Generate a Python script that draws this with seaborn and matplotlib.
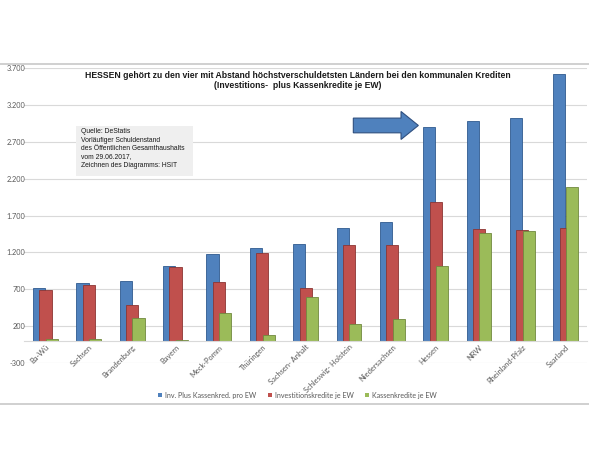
import numpy as np
import pandas as pd
import seaborn as sns
import matplotlib.pyplot as plt
from matplotlib.patches import FancyArrow, Rectangle
from matplotlib.lines import Line2D
from matplotlib.ticker import FuncFormatter

laender = ['Ba-Wü', 'Sachsen', 'Brandenburg', 'Bayern', 'Meck-Pomm', 'Thüringen',
           'Sachsen- Anhalt', 'Schleswig- Holstein', 'Niedersachsen', 'Hessen',
           'NRW', 'Rheinland-Pfalz', 'Saarland']
gesamt = [712, 788, 811, 1015, 1178, 1260, 1314, 1527, 1609, 2904, 2990, 3026, 3624]
investition = [689, 757, 485, 1002, 798, 1187, 712, 1296, 1296, 1885, 1522, 1508, 1527]
kasse = [20, 25, 313, 5, 372, 73, 594, 227, 299, 1015, 1459, 1495, 2093]
serien = ['Inv. Plus Kassenkred. pro EW', 'Investitionskredite je EW', 'Kassenkredite je EW']
yticks = [-300, 200, 700, 1200, 1700, 2200, 2700, 3200, 3700]

farben = ['#4f81bd', '#c0504d', '#9bbb59']
kanten = ['#2f5a8f', '#8c3533', '#71893f']

df = pd.DataFrame({
    'Land': laender * 3,
    'Wert': gesamt + investition + kasse,
    'Serie': [serien[0]] * 13 + [serien[1]] * 13 + [serien[2]] * 13,
})

sns.set_style('white')
fig = plt.figure(figsize=(5.89, 4.75), dpi=100)
ax = fig.add_axes([0.0404, 0.236, 0.957, 0.62])

sns.barplot(data=df, x='Land', y='Wert', hue='Serie', hue_order=serien,
            palette=farben, saturation=1, dodge=True, width=0.44, ax=ax,
            legend=False, linewidth=0.6)

# overlapping bars like the Excel original
bw = 0.28
for i, cont in enumerate(ax.containers):
    for p in cont:
        c = p.get_x() + p.get_width() / 2
        p.set_width(bw)
        p.set_x(c - bw / 2)
        p.set_edgecolor(kanten[i])

ax.set_ylim(-300, 3700)
ax.set_xlim(-0.5, len(laender) - 0.5)
ax.set_yticks(yticks)
ax.yaxis.set_major_formatter(FuncFormatter(lambda v, _: f'{int(v):,}'.replace(',', '.')))
for t in ax.get_yticklabels():
    t.set_family('Lato')
ax.yaxis.grid(True, color='#d9d9d9', linewidth=0.8)
ax.set_axisbelow(True)
for s in ['top', 'right', 'left']:
    ax.spines[s].set_visible(False)
ax.spines['bottom'].set_position(('data', 0))
ax.spines['bottom'].set_color('#d9d9d9')
ax.spines['bottom'].set_linewidth(0.8)
ax.tick_params(axis='both', length=0, pad=2)
ax.tick_params(axis='y', pad=-1, labelsize=5.3, labelcolor='#595959')
ax.set_xticks(range(len(laender)))
ax.set_xticklabels(laender, rotation=45, ha='right', rotation_mode='anchor',
                   fontsize=5.4, color='#595959', family='Lato')
ax.set_xlabel('')
ax.set_ylabel('')

# title
fig.text(0.505, 0.842, 'HESSEN gehört zu den vier mit Abstand höchstverschuldetsten Ländern bei den kommunalen Krediten',
         ha='center', va='center', fontsize=6.2, weight='bold', family='Liberation Sans', color='#1a1a1a')
fig.text(0.505, 0.819, '(Investitions-  plus Kassenkredite je EW)',
         ha='center', va='center', fontsize=6.2, weight='bold', family='Liberation Sans', color='#1a1a1a')

# source box
fig.add_artist(Rectangle((76 / 589, 1 - 176 / 475), 117 / 589, 50 / 475,
                         transform=fig.transFigure, facecolor='#efefef', edgecolor='none'))
fig.text(81 / 589, 1 - 128 / 475,
         'Quelle: DeStatis\nVorläufiger Schuldenstand\ndes Öffentlichen Gesamthaushalts\nvom 29.06.2017,\nZeichnen des Diagramms: HSIT',
         ha='left', va='top', fontsize=4.9, family='Liberation Sans', color='#1a1a1a', linespacing=1.3)

# arrow pointing at Hessen
ax.add_patch(FancyArrow(7.1, 2925, 1.5, 0, width=200, head_width=380, head_length=0.4,
                        length_includes_head=True, facecolor='#4f81bd', edgecolor='#2f4f7f',
                        linewidth=0.8, zorder=5))

# frame lines
fig.add_artist(Line2D([0, 1], [1 - 64 / 475] * 2, color='#c8c8c8', linewidth=1.2))
fig.add_artist(Line2D([0, 1], [1 - 404 / 475] * 2, color='#c8c8c8', linewidth=1.2))

handles = [Rectangle((0, 0), 1, 1, facecolor=f, edgecolor='none') for f in farben]
fig.legend(handles, serien, loc='center', bbox_to_anchor=(0.505, 0.168), ncol=3,
           frameon=False, handlelength=0.6, handleheight=0.6,
           handletextpad=0.4, columnspacing=1.6, prop={'family': 'Lato', 'size': 5.1},
           labelcolor='#595959')

fig.savefig('out.png', dpi=100)
